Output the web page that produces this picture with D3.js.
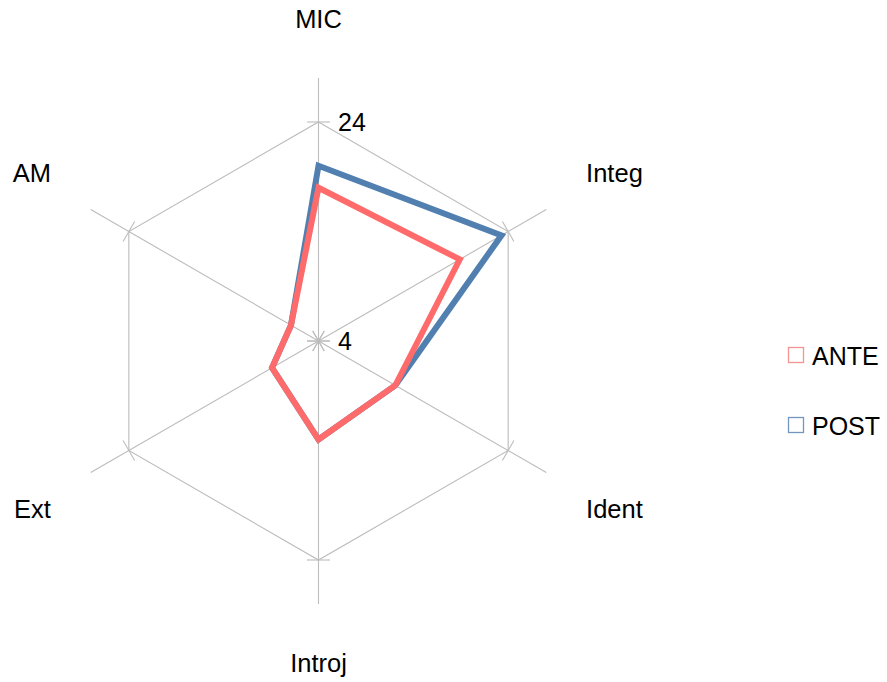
<!DOCTYPE html>
<html>
<head>
<meta charset="utf-8">
<script src="https://cdn.jsdelivr.net/npm/d3@7"></script>
<style>
  html, body { margin: 0; padding: 0; background: #ffffff; }
  svg { display: block; font-family: "Liberation Sans", Arial, sans-serif; }
</style>
</head>
<body>
<svg id="chart" width="887" height="682"></svg>
<script>
// Radar axes, clockwise from the top
const categories = ["MIC", "Integ", "Ident", "Introj", "Ext", "AM"];
const seriesNames = ["ANTE", "POST"];
const anteValues = [18, 18.9, 12.1, 13, 8.9, 6.9];
const postValues = [20, 23.3, 12.1, 13, 8.9, 6.9];
const tickValues = [4, 24];

const colors = { ANTE: "#ff6b6b", POST: "#5180b0" };
const legendStroke = { ANTE: "#f59393", POST: "#7396bf" };

const svg = d3.select("#chart");
const cx = 318.5, cy = 341;
const outerR = 219, axisR = 263, tickHalf = 11.5;

const r = d3.scaleLinear().domain([tickValues[0], tickValues[tickValues.length - 1]]).range([0, outerR]);
const angle = d3.scaleLinear().domain([0, categories.length]).range([0, 2 * Math.PI]);

const pt = (i, rad) => [cx + Math.sin(angle(i)) * rad, cy - Math.cos(angle(i)) * rad];

const grid = svg.append("g").attr("stroke", "#bcbcbc").attr("stroke-width", 1.1).attr("fill", "none");

// axis spokes
categories.forEach((c, i) => {
  const [x1, y1] = pt(i, axisR);
  grid.append("line").attr("x1", cx).attr("y1", cy).attr("x2", x1).attr("y2", y1);
});

// outer gridline polygon at the top tick value
grid.append("path")
  .attr("d", d3.line()(categories.map((c, i) => pt(i, r(tickValues[tickValues.length - 1])))) + "Z");

// tick marks across each spoke at every tick value
tickValues.forEach(v => {
  categories.forEach((c, i) => {
    const [px, py] = pt(i, r(v));
    const a = angle(i);
    const ux = Math.cos(a), uy = Math.sin(a);
    grid.append("line")
      .attr("x1", px - ux * tickHalf).attr("y1", py - uy * tickHalf)
      .attr("x2", px + ux * tickHalf).attr("y2", py + uy * tickHalf);
  });
});

// tick labels along the top spoke
svg.append("g").selectAll("text").data(tickValues).join("text")
  .attr("x", cx + 19.5)
  .attr("y", d => cy - r(d) + 9)
  .attr("font-size", 25)
  .attr("fill", "#000")
  .text(d => d);

// category labels
svg.append("g").selectAll("text").data(categories).join("text")
  .attr("x", (d, i) => cx + Math.sin(angle(i)) * 309)
  .attr("y", (d, i) => {
    const s = Math.abs(Math.sin(angle(i)));
    return cy - Math.cos(angle(i)) * (s > 0.1 ? 336 : 322);
  })
  .attr("dy", "0.36em")
  .attr("text-anchor", (d, i) => {
    const s = Math.sin(angle(i));
    return s > 0.1 ? "start" : (s < -0.1 ? "end" : "middle");
  })
  .attr("font-size", 25.5)
  .attr("fill", "#000")
  .text(d => d);

// series lines (POST underneath ANTE)
const radarLine = d3.lineRadial()
  .angle((d, i) => angle(i))
  .radius(d => r(d))
  .curve(d3.curveLinearClosed);

const seriesData = { ANTE: anteValues, POST: postValues };
["POST", "ANTE"].forEach(name => {
  svg.append("path")
    .attr("transform", `translate(${cx},${cy})`)
    .attr("d", radarLine(seriesData[name]))
    .attr("fill", "none")
    .attr("stroke", colors[name])
    .attr("stroke-width", 6)
    .attr("stroke-linejoin", "miter");
});

// legend
const legend = svg.append("g");
seriesNames.forEach((name, k) => {
  const y0 = 347.5 + k * 70;
  legend.append("rect")
    .attr("x", 788.5).attr("y", y0).attr("width", 15).attr("height", 15)
    .attr("fill", "#fff").attr("stroke", legendStroke[name]).attr("stroke-width", 1.3);
  legend.append("text")
    .attr("x", 812).attr("y", y0 + 17.5)
    .attr("font-size", 25)
    .attr("fill", "#000")
    .text(name);
});
</script>
</body>
</html>
